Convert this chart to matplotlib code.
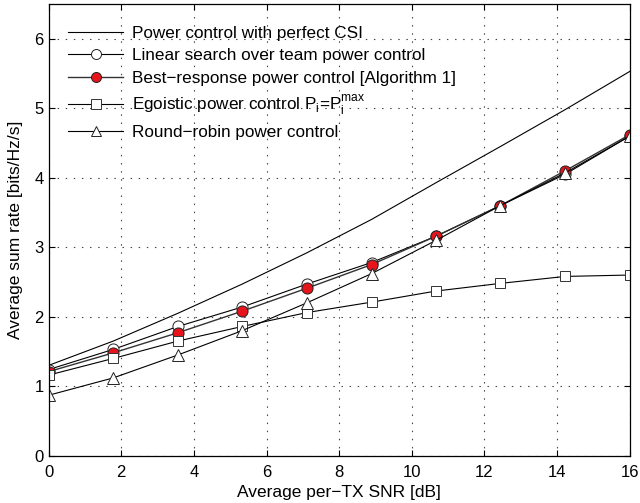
import matplotlib
matplotlib.use('Agg')
import matplotlib.pyplot as plt
import numpy as np

plt.rcParams['font.family'] = ['Liberation Sans', 'DejaVu Sans']
plt.rcParams['mathtext.fontset'] = 'custom'
plt.rcParams['mathtext.rm'] = 'Liberation Sans'

snr = [0, 1.78, 3.56, 5.33, 7.11, 8.89, 10.67, 12.44, 14.22, 16]
perfect = [1.30, 1.65, 2.05, 2.47, 2.92, 3.40, 3.93, 4.45, 4.98, 5.53]
linear = [1.24, 1.53, 1.86, 2.14, 2.47, 2.78, 3.16, 3.60, 4.05, 4.60]
best = [1.21, 1.48, 1.77, 2.08, 2.41, 2.75, 3.16, 3.60, 4.10, 4.62]
egoistic = [1.16, 1.40, 1.65, 1.86, 2.06, 2.21, 2.37, 2.48, 2.58, 2.60]
roundrobin = [0.87, 1.12, 1.45, 1.80, 2.20, 2.62, 3.10, 3.60, 4.07, 4.60]

fig = plt.figure(figsize=(6.4, 5.03), dpi=100)
ax = fig.add_axes([0.076, 0.094, 0.908, 0.898])

ax.plot(snr, perfect, '-', color='black', lw=0.8, label='Power control with perfect CSI')
ax.plot(snr, linear, '-o', color='black', lw=0.8, ms=8, mfc='white', mec='#222222', mew=0.7,
        label='Linear search over team power control')
ax.plot(snr, best, '-o', color='#333333', lw=1.0, ms=8, mfc='#e8141c', mec='#222222', mew=0.7,
        label='Best\u2212response power control [Algorithm 1]')
ax.plot(snr, egoistic, '-s', color='black', lw=0.8, ms=7.5, mfc='white', mec='#333333', mew=0.7,
        label=r'Egoistic power control P$_\mathregular{i}$=P$_\mathregular{i}^\mathregular{max}$')
ax.plot(snr, roundrobin, '-^', color='black', lw=0.8, ms=8.5, mfc='white', mec='#222222', mew=0.7,
        label='Round\u2212robin power control')

ax.set_xlim(0, 16)
ax.set_ylim(0, 6.5)
ax.set_xticks(np.arange(0, 17, 2))
ax.set_yticks(np.arange(0, 7, 1))
ax.grid(True, linestyle=(0, (1.3, 6)), color='#444444', lw=0.8)
ax.tick_params(direction='in', labelsize=12, top=True, right=True, length=4)
ax.tick_params(axis='x', pad=7)
for s in ax.spines.values():
    s.set_linewidth(0.9)

ax.set_xlabel('Average per\u2212TX SNR [dB]', fontsize=12.5, labelpad=3)
ax.set_ylabel('Average sum rate [bits/Hz/s]', fontsize=12.5, labelpad=8)

leg = ax.legend(loc='upper left', frameon=False, fontsize=12.3, handlelength=3.2,
                handletextpad=0.5, borderpad=0, borderaxespad=0, labelspacing=0.45,
                markerscale=0.9, bbox_to_anchor=(0.034, 0.952))

plt.savefig('out.png', dpi=100)
